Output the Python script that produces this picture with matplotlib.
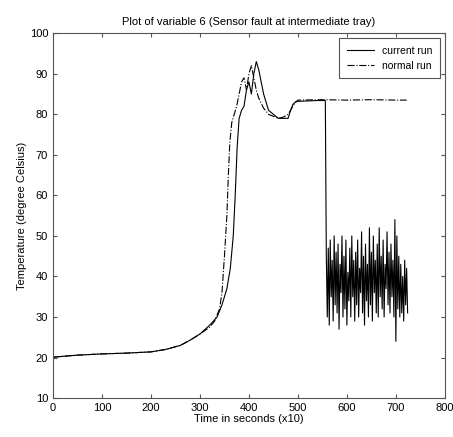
import numpy as np
import matplotlib.pyplot as plt

plt.rcParams['font.family'] = ['Liberation Sans', 'DejaVu Sans']

# current run (solid) before the sensor fault
cur_t = [0, 50, 100, 150, 200, 230, 260, 280, 300, 320, 335, 345, 355, 362, 368,
         372, 376, 380, 385, 390, 395, 400, 405, 410, 415, 420, 425, 430, 435,
         440, 450, 460, 470, 480, 485, 490, 495, 500, 520, 540, 556]
cur_T = [20.1, 20.6, 20.9, 21.1, 21.4, 22.0, 23.0, 24.3, 25.8, 28.0, 30.0, 33.0,
         37.0, 42.0, 50.0, 60.0, 72.0, 79.0, 81.0, 82.0, 86.0, 88.0, 85.0, 90.0,
         93.0, 91.0, 88.0, 85.0, 83.0, 81.0, 80.0, 79.0, 79.0, 79.0, 81.0, 82.5,
         83.0, 83.2, 83.3, 83.4, 83.4]

# current run after the fault (faulty sensor readings)
fault_T = [45, 30, 47, 28, 49, 35, 44, 29, 50, 33, 46, 31, 48, 27, 43, 36, 50, 30,
           45, 32, 49, 28, 41, 34, 47, 30, 50, 35, 44, 29, 46, 33, 49, 30, 42, 36,
           51, 31, 45, 28, 48, 34, 43, 30, 52, 33, 46, 29, 50, 36, 44, 31, 48, 30,
           52, 35, 45, 32, 49, 30, 43, 37, 51, 33, 46, 31, 48, 35, 44, 30, 54, 24,
           50, 32, 45, 30, 43, 31, 40, 29, 44, 33, 42, 31]
fault_t = np.linspace(558, 724, len(fault_T))

# normal run (dash-dot)
norm_t = [0, 50, 100, 150, 200, 230, 260, 280, 300, 320, 330, 340, 345, 350, 355,
          358, 361, 365, 370, 375, 380, 385, 390, 395, 400, 405, 410, 415, 420,
          430, 440, 450, 460, 470, 480, 490, 495, 500, 550, 600, 650, 700, 722]
norm_T = [20.1, 20.6, 20.9, 21.1, 21.4, 22.0, 23.0, 24.3, 25.8, 27.5, 29.0, 32.0,
          36.0, 45.0, 55.0, 65.0, 73.0, 78.0, 80.0, 82.0, 85.0, 88.0, 89.0, 86.0,
          90.0, 92.0, 89.0, 86.0, 84.0, 81.5, 80.0, 79.5, 79.0, 79.3, 80.0, 82.0,
          83.0, 83.5, 83.6, 83.5, 83.6, 83.5, 83.5]

cur_all_t = list(cur_t) + [558] + list(fault_t)
cur_all_T = list(cur_T) + [fault_T[0]] + list(fault_T)

fig = plt.figure(figsize=(4.53, 4.37), dpi=100)
ax = fig.add_axes([0.117, 0.089, 0.865, 0.835])
ax.plot(cur_all_t, cur_all_T, color='black', lw=0.8, label='current run')
ax.plot(norm_t, norm_T, color='black', lw=0.8, linestyle='-.', label='normal run')

ax.set_xlim(0, 800)
ax.set_ylim(10, 100)
ax.set_xticks(range(0, 801, 100))
ax.set_yticks(range(10, 101, 10))
ax.tick_params(direction='in', top=True, right=True, labelsize=8, length=3,
               color='#555555')
for s in ax.spines.values():
    s.set_color('#555555')
ax.set_title('Plot of variable 6 (Sensor fault at intermediate tray)', fontsize=8)
ax.set_xlabel('Time in seconds (x10)', fontsize=8, labelpad=1)
ax.set_ylabel('Temperature (degree Celsius)', fontsize=8, labelpad=2)
leg = ax.legend(loc='upper right', fontsize=7.5, fancybox=False, framealpha=1,
                edgecolor='#555555', borderpad=0.7, handlelength=2.6)
leg.get_frame().set_linewidth(0.8)

plt.savefig('out.png', dpi=100)
